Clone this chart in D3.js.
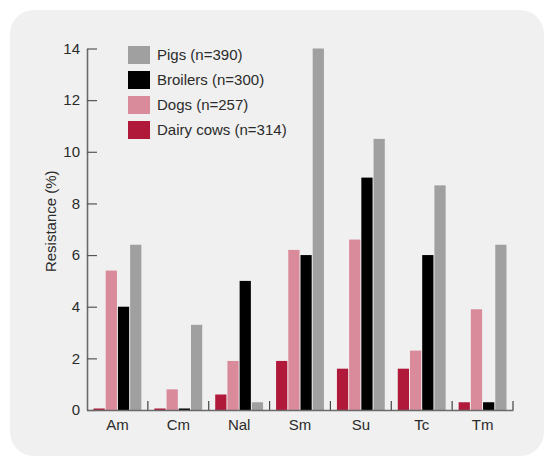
<!DOCTYPE html>
<html>
<head>
<meta charset="utf-8">
<script src="https://cdn.jsdelivr.net/npm/d3@7"></script>
<style>
  html, body { margin: 0; padding: 0; background: #ffffff; }
  svg { display: block; }
  text { font-family: "Liberation Sans", Arial, Helvetica, sans-serif; fill: #2b2b2b; }
</style>
</head>
<body>
<svg id="chart" width="544" height="456"></svg>
<script>
// ---- data ----
const categories = ["Am", "Cm", "Nal", "Sm", "Su", "Tc", "Tm"];
const seriesNames = ["Dairy cows (n=314)", "Dogs (n=257)", "Broilers (n=300)", "Pigs (n=390)"];
const dairyCows = [0, 0, 0.6, 1.9, 1.6, 1.6, 0.3];
const dogs      = [5.4, 0.8, 1.9, 6.2, 6.6, 2.3, 3.9];
const broilers  = [4.0, 0, 5.0, 6.0, 9.0, 6.0, 0.3];
const pigs      = [6.4, 3.3, 0.3, 14.0, 10.5, 8.7, 6.4];
const yTicks = [0, 2, 4, 6, 8, 10, 12, 14];
const legendOrder = ["Pigs (n=390)", "Broilers (n=300)", "Dogs (n=257)", "Dairy cows (n=314)"];
const seriesColors = ["#b0193a", "#d98a9b", "#000000", "#a0a0a0"];

const seriesValues = [dairyCows, dogs, broilers, pigs];

const svg = d3.select("#chart");

// panel background
svg.append("rect")
  .attr("x", 10).attr("y", 10)
  .attr("width", 560).attr("height", 446)
  .attr("rx", 24).attr("ry", 24)
  .attr("fill", "#eff0ef");
// bottom-right rounded corner of panel
svg.select("rect").attr("width", 534);

const plot = { left: 87, right: 513, top: 48.5, bottom: 410 };

const x = d3.scaleBand().domain(categories).range([plot.left, plot.right]).padding(0);
const x1 = d3.scaleBand().domain(seriesNames).range([6.5, x.bandwidth() - 6.5]).paddingInner(0.08);
const y = d3.scaleLinear().domain([0, 14]).range([plot.bottom, plot.top]);
const color = d3.scaleOrdinal().domain(seriesNames).range(seriesColors);

// bars
const g = svg.append("g");
categories.forEach((cat, ci) => {
  seriesNames.forEach((s, si) => {
    const v = seriesValues[si][ci];
    const h = Math.max(plot.bottom - y(v), 1.5);
    g.append("rect")
      .attr("x", x(cat) + x1(s))
      .attr("y", plot.bottom - h)
      .attr("width", x1.bandwidth())
      .attr("height", h)
      .attr("fill", color(s));
  });
});

const axisColor = "#6a6a6a";

// y axis
const yAxis = svg.append("g")
  .attr("transform", `translate(${plot.left},0)`)
  .call(d3.axisLeft(y).tickValues(yTicks).tickSizeInner(-10).tickSizeOuter(0).tickPadding(7));
yAxis.select(".domain").attr("stroke", axisColor).attr("stroke-width", 1.6);
yAxis.selectAll(".tick line").attr("stroke", "#555").attr("stroke-width", 1.2);
yAxis.selectAll(".tick text").attr("font-size", 15).attr("font-family", "Liberation Sans, Arial, sans-serif").attr("fill", "#2b2b2b");

// x axis
const xAxis = svg.append("g")
  .attr("transform", `translate(0,${plot.bottom})`)
  .call(d3.axisBottom(x).tickSize(0).tickPadding(9));
xAxis.select(".domain").attr("stroke", axisColor).attr("stroke-width", 1.6);
xAxis.selectAll(".tick text").attr("font-size", 15).attr("font-family", "Liberation Sans, Arial, sans-serif").attr("fill", "#2b2b2b");

// boundary ticks (upward) between groups
const boundaries = categories.slice(1).map(c => x(c)).concat([x.range()[1]]);
xAxis.selectAll("line.sep").data(boundaries).enter().append("line")
  .attr("class", "sep")
  .attr("x1", d => d).attr("x2", d => d)
  .attr("y1", 0).attr("y2", -9)
  .attr("stroke", "#444").attr("stroke-width", 1.2);

// y axis label
svg.append("text")
  .attr("transform", `translate(56,${(plot.top + plot.bottom) / 2 - 8}) rotate(-90)`)
  .attr("text-anchor", "middle")
  .attr("font-size", 15)
  .text("Resistance (%)");

// legend
const legend = svg.append("g").attr("transform", "translate(128,46)");
legendOrder.forEach((name, i) => {
  const row = legend.append("g").attr("transform", `translate(0,${i * 25})`);
  row.append("rect").attr("width", 22).attr("height", 18).attr("fill", color(name));
  row.append("text").attr("x", 29).attr("y", 9).attr("dy", "0.35em")
    .attr("font-size", 15).text(name);
});
</script>
</body>
</html>
